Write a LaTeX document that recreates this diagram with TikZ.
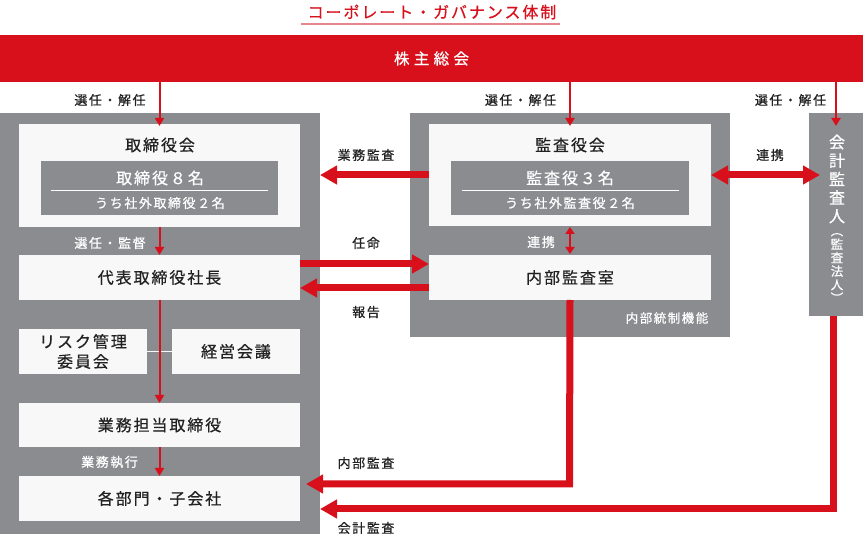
\documentclass[tikz,border=0pt]{standalone}
\usepackage{fontspec}
\setmainfont{Noto Sans CJK JP}[LetterSpace=12, FakeBold=0.6]
\newfontfamily\jpwide{Noto Sans CJK JP}[LetterSpace=28, FakeBold=0.6]
\newfontfamily\jpv{Noto Sans CJK JP}[FakeBold=0.6]
\usetikzlibrary{arrows.meta}
\definecolor{cred}{HTML}{D7101C}
\definecolor{cgray}{HTML}{8A8C90}
\definecolor{cwhite}{HTML}{F8F8F8}
\definecolor{cpink}{HTML}{E8858C}
\definecolor{cblack}{HTML}{222222}
\tikzset{
  panel/.style={fill=cgray, anchor=north west},
  wbox/.style={fill=cwhite, anchor=north west, text=cblack, font=\fontsize{16}{20}\selectfont, align=center},
  boxtitle/.style={text=cblack, font=\fontsize{16}{16}\selectfont},
  bigw/.style={text=white, font=\fontsize{16}{16}\selectfont},
  smallw/.style={text=white, font=\fontsize{13}{13}\selectfont},
  lblk/.style={text=cblack, font=\fontsize{13}{13}\selectfont},
  lwht/.style={text=white, font=\fontsize{13}{13}\selectfont},
  thinarrow/.style={draw=cred, line width=2pt, -{Triangle[width=9pt,length=8pt]}},
  thinboth/.style={draw=cred, line width=2pt, {Triangle[width=9pt,length=7pt]}-{Triangle[width=9pt,length=7pt]}},
  thickarrow/.style={draw=cred, line width=7pt, -{Triangle[width=18pt,length=17pt]}},
  thickboth/.style={draw=cred, line width=7pt, {Triangle[width=18pt,length=17pt]}-{Triangle[width=18pt,length=17pt]}},
}
\begin{document}
\begin{tikzpicture}[x=1pt,y=-1pt, every node/.style={inner sep=0pt, outer sep=0pt}]
\useasboundingbox (0,0) rectangle (863,534);

% title
\node[text=cred, font=\fontsize{16}{16}\selectfont] (title) at (432,12) {コーポレート・ガバナンス体制};
\draw[cpink, line width=1.8pt] (301,24) -- (560,24);

% general meeting
\node[fill=cred, minimum width=863pt, minimum height=47pt, anchor=north west, text=white, font=\jpwide\fontsize{15.5}{15.5}\selectfont] (gm) at (0,35) {株主総会};

% panels
\node[panel, minimum width=320pt, minimum height=421pt] (lp) at (0,113) {};
\node[panel, minimum width=320pt, minimum height=224pt] (mp) at (410,113) {};
\node[panel, minimum width=54pt, minimum height=203pt] (rp) at (809,113) {};

% board of directors
\node[wbox, minimum width=281pt, minimum height=103pt] (tb) at (19,124) {};
\node[boxtitle] (tbt) at (160,145) {取締役会};
\node[panel, minimum width=237pt, minimum height=54pt] (tbi) at (41,161) {};
\node[bigw] (tbn) at (160,178) {取締役８名};
\draw[white, line width=0.8pt] (51,190) -- (268,190);
\node[smallw] (tbo) at (160,203) {うち社外取締役２名};

% audit & supervisory board
\node[wbox, minimum width=282pt, minimum height=102pt] (kb) at (429,124) {};
\node[boxtitle] (kbt) at (570,145) {監査役会};
\node[panel, minimum width=238pt, minimum height=54pt] (kbi) at (451,161) {};
\node[bigw] (kbn) at (570,178) {監査役３名};
\draw[white, line width=0.8pt] (462,190) -- (679,190);
\node[smallw] (kbo) at (570,203) {うち社外監査役２名};

% other boxes
\node[wbox, minimum width=281pt, minimum height=45pt] (ceo) at (19,255) {代表取締役社長};
\node[wbox, minimum width=282pt, minimum height=45pt] (ia) at (429,255) {内部監査室};
\node[wbox, minimum width=128pt, minimum height=45pt] (risk) at (19,329) {リスク管理\\委員会};
\node[wbox, minimum width=128pt, minimum height=45pt] (mc) at (172,329) {経営会議};
\node[wbox, minimum width=281pt, minimum height=44pt] (ed) at (19,403) {業務担当取締役};
\node[wbox, minimum width=281pt, minimum height=45pt] (dept) at (19,476) {各部門・子会社};

\node[text=white, font=\fontsize{12.5}{12.5}\selectfont] (icf) at (667,318) {内部統制機能};

% accounting auditor vertical text
\node[text=white, font=\jpv\fontsize{16}{18.5}\selectfont, align=center] (acc) at (837,179) {会\\計\\監\\査\\人};
\node[text=white, font=\jpv\fontsize{12.5}{13.5}\selectfont, align=center] (accp) at (837,268) {︵\\監\\査\\法\\人\\︶};

% thin connectors
\draw[cwhite, line width=1.5pt] (risk.east) -- (mc.west);
\draw[thinarrow] (tb.north |- gm.south) -- ([yshift=-2pt]tb.north);
\draw[thinarrow] (tb.south) -- (ceo.north);
\draw[thinarrow] (ceo.south) -- (ed.north);
\draw[thinarrow] (ed.south) -- (dept.north);
\draw[thinarrow] (kb.north |- gm.south) -- ([yshift=-2pt]kb.north);
\draw[thinarrow] (rp.north |- gm.south) -- ([yshift=-13pt]rp.north);
\draw[thinboth] ([yshift=-1pt]kb.south) -- ([yshift=1pt]ia.north);

% thick connectors
\draw[thickarrow] (kb.west) -- (lp.east |- kb.west);
\draw[thickarrow] ([yshift=13.5pt]ceo.east) -- ([yshift=13.5pt]ceo.east -| ia.west);
\draw[thickarrow] ([yshift=-10.5pt]ia.west) -- ([yshift=-10.5pt]ia.west -| ceo.east);
\draw[thickboth] (kb.east) -- ([xshift=11pt]rp.west |- kb.east);
\coordinate (iaturn) at (569.5,484);
\coordinate (iaend) at (306,484);
\draw[thickarrow] (ia.south) -- (iaturn) -- (iaend);
\coordinate (actop) at (833,316);
\coordinate (acturn) at (833,509);
\coordinate (acend) at (320,509);
\draw[thickarrow] (actop) -- (acturn) -- (acend);

% labels
\node[lblk] (l1) at (110,100) {選任・解任};
\node[lblk] (l2) at (520.5,100) {選任・解任};
\node[lblk] (l3) at (790.5,100) {選任・解任};
\node[lblk] (l4) at (366,155) {業務監査};
\node[lblk] (l5) at (366,243) {任命};
\node[lblk] (l6) at (366,312) {報告};
\node[lblk] (l7) at (366,463) {内部監査};
\node[lblk] (l8) at (366,528) {会計監査};
\node[lblk] (l9) at (770,155) {連携};
\node[lwht] (w1) at (110,243) {選任・監督};
\node[lwht] (w2) at (109.5,462) {業務執行};
\node[lwht] (w3) at (541,242) {連携};
\end{tikzpicture}
\end{document}
